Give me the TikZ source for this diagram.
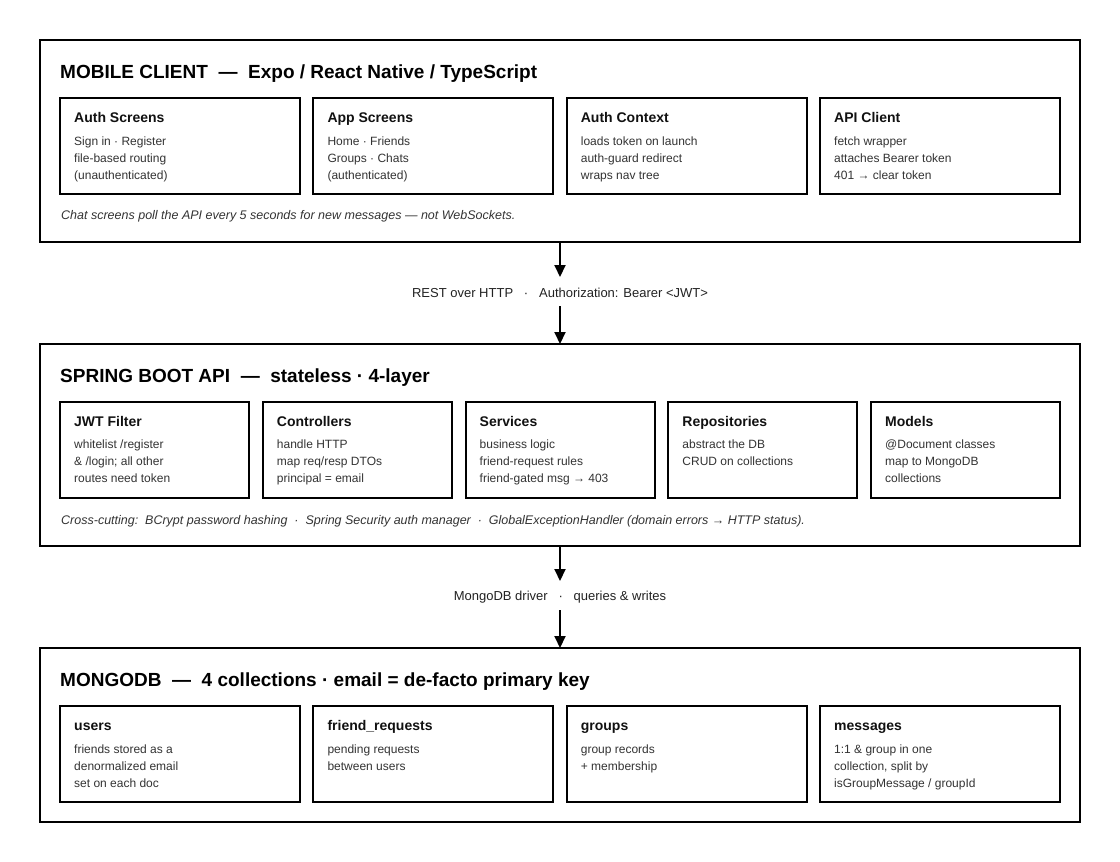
\documentclass[tikz,border=0pt]{standalone}
\usepackage{fontspec}
\setmainfont{Liberation Sans}
\usetikzlibrary{arrows.meta}
\definecolor{bodytxt}{HTML}{333333}
\definecolor{hdrtxt}{HTML}{111111}
\definecolor{lbltxt}{HTML}{222222}
\tikzset{
  obox/.style={draw=black, line width=2pt, inner sep=0pt, outer sep=0pt, fill=white},
  ibox/.style={draw=black, line width=2pt, inner sep=0pt, outer sep=0pt, minimum height=96pt},
  ttl/.style={anchor=base west, inner sep=0pt, text=black, font=\fontsize{19pt}{23pt}\selectfont\bfseries},
  hdr/.style={anchor=base west, inner sep=0pt, text=hdrtxt, font=\fontsize{14pt}{17pt}\selectfont\bfseries},
  bodyl/.style={anchor=base west, inner sep=0pt, text=bodytxt, font=\fontsize{12pt}{15pt}\selectfont},
  note/.style={anchor=base west, inner sep=0pt, text=bodytxt, font=\fontsize{12.5pt}{15pt}\selectfont\itshape},
  lbl/.style={anchor=base, inner sep=0pt, text=lbltxt, font=\fontsize{13pt}{16pt}\selectfont},
  arr/.style={line width=2pt, -{Triangle[length=12pt,width=11pt]}}
}
\newcommand\ibox[8]{%
  \node[ibox, minimum width=#4pt, anchor=north west] (#1) at (#2,#3) {};
  \node[hdr] (#1-h) at ([xshift=14pt,yshift=-24.5pt]#1.north west) {#5};
  \node[bodyl] (#1-a) at ([xshift=14pt,yshift=-47pt]#1.north west) {#6};
  \node[bodyl] (#1-b) at ([xshift=14pt,yshift=-64pt]#1.north west) {#7};
  \node[bodyl] (#1-c) at ([xshift=14pt,yshift=-81pt]#1.north west) {#8};
}
\newcommand\gsp{\hspace{6.9pt}}
\begin{document}
\begin{tikzpicture}[x=1pt,y=-1pt]
\useasboundingbox[fill=white] (0,0) rectangle (1120,862);

% ---------- Mobile client ----------
\node[obox, minimum width=1040pt, minimum height=202pt, anchor=north west] (client) at (40,40) {};
\node[ttl] (client-t) at (60,78) {MOBILE CLIENT\hspace{10.6pt}—\hspace{10.6pt}Expo / React Native / TypeScript};
\ibox{auth}{60}{98}{240}{Auth Screens}{Sign in · Register}{file-based routing}{(unauthenticated)}
\ibox{app}{313.33}{98}{240}{App Screens}{Home · Friends}{Groups · Chats}{(authenticated)}
\ibox{ctx}{566.67}{98}{240}{Auth Context}{loads token on launch}{auth-guard redirect}{wraps nav tree}
\ibox{apic}{820}{98}{240}{API Client}{fetch wrapper}{attaches Bearer token}{401 → clear token}
\node[note] (client-n) at (61,219) {Chat screens poll the API every 5 seconds for new messages — not WebSockets.};

% ---------- Spring Boot API ----------
\node[obox, minimum width=1040pt, minimum height=202pt, anchor=north west] (api) at (40,344) {};
\node[ttl] (api-t) at (60,382) {SPRING BOOT API\hspace{10.6pt}—\hspace{10.6pt}stateless · 4-layer};
\ibox{jwt}{60}{401.5}{189}{JWT Filter}{whitelist /register}{\& /login; all other}{routes need token}
\ibox{ctrl}{262.75}{401.5}{189}{Controllers}{handle HTTP}{map req/resp DTOs}{principal = email}
\ibox{svc}{465.5}{401.5}{189}{Services}{business logic}{friend-request rules}{friend-gated msg → 403}
\ibox{repo}{668.25}{401.5}{189}{Repositories}{abstract the DB}{CRUD on collections}{}
\ibox{mdl}{871}{401.5}{189}{Models}{@Document classes}{map to MongoDB}{collections}
\node[note] (api-n) at (61,524) {Cross-cutting:\gsp BCrypt password hashing\gsp·\gsp Spring Security auth manager\gsp·\gsp GlobalExceptionHandler (domain errors → HTTP status).};

% ---------- MongoDB ----------
\node[obox, minimum width=1040pt, minimum height=174pt, anchor=north west] (db) at (40,648) {};
\node[ttl] (db-t) at (60,686) {MONGODB\hspace{10.6pt}—\hspace{10.6pt}4 collections · email = de-facto primary key};
\ibox{users}{60}{706}{240}{users}{friends stored as a}{denormalized email}{set on each doc}
\ibox{freq}{313.33}{706}{240}{friend\_requests}{pending requests}{between users}{}
\ibox{grp}{566.67}{706}{240}{groups}{group records}{+ membership}{}
\ibox{msg}{820}{706}{240}{messages}{1:1 \& group in one}{collection, split by}{isGroupMessage / groupId}

% ---------- connectors ----------
\node[lbl] (l1) at (560,297) {REST over HTTP\hspace{10.8pt}·\hspace{10.8pt}Authorization: Bearer <JWT>};
\coordinate (a1) at (560,277);
\coordinate (a2) at (560,306);
\draw[arr] (client.south) -- (a1);
\draw[arr] (a2) -- (api.north);

\node[lbl] (l2) at (560,600) {MongoDB driver\hspace{10.8pt}·\hspace{10.8pt}queries \& writes};
\coordinate (a3) at (560,581);
\coordinate (a4) at (560,610);
\draw[arr] (api.south) -- (a3);
\draw[arr] (a4) -- (db.north);
\end{tikzpicture}
\end{document}
